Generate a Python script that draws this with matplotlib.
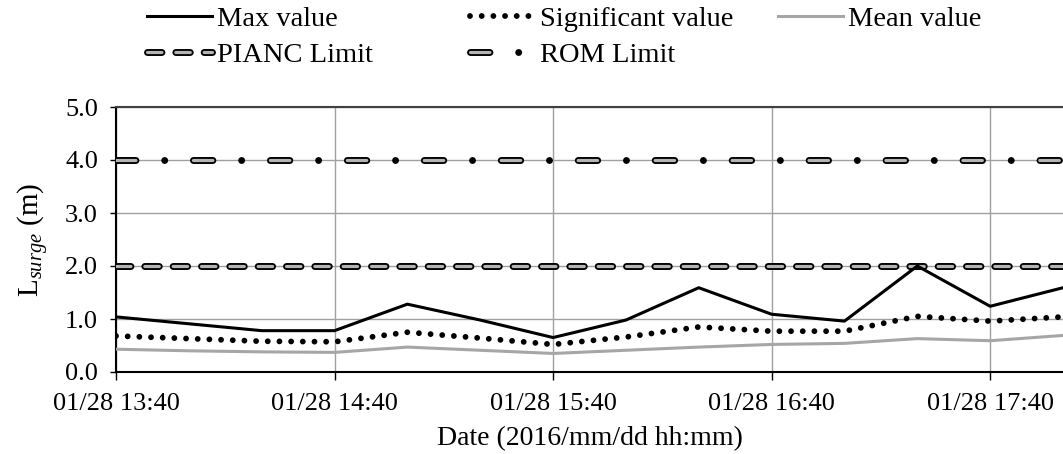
import matplotlib
matplotlib.use('Agg')
import matplotlib.pyplot as plt
import matplotlib.dates as mdates
from matplotlib.legend_handler import HandlerTuple
import pandas as pd

plt.rcParams['font.family'] = ['Liberation Serif', 'DejaVu Serif']
plt.rcParams['mathtext.fontset'] = 'custom'
plt.rcParams['mathtext.rm'] = 'Liberation Serif'
plt.rcParams['mathtext.it'] = 'Liberation Serif:italic'
plt.rcParams['lines.scale_dashes'] = False

# data (every 20 min)
times = ['2016-01-28 13:40', '2016-01-28 14:00', '2016-01-28 14:20', '2016-01-28 14:40',
         '2016-01-28 15:00', '2016-01-28 15:20', '2016-01-28 15:40', '2016-01-28 16:00',
         '2016-01-28 16:20', '2016-01-28 16:40', '2016-01-28 17:00', '2016-01-28 17:20',
         '2016-01-28 17:40', '2016-01-28 18:00']
max_value = [1.04, 0.91, 0.78, 0.78, 1.28, 0.98, 0.65, 0.98, 1.59, 1.09, 0.96, 2.00, 1.24, 1.59]
sig_value = [0.68, 0.63, 0.58, 0.57, 0.75, 0.64, 0.52, 0.66, 0.85, 0.77, 0.77, 1.05, 0.96, 1.04]
mean_value = [0.43, 0.40, 0.38, 0.37, 0.47, 0.41, 0.35, 0.41, 0.47, 0.52, 0.54, 0.63, 0.59, 0.69]
pianc_limit = 2.0
rom_limit = 4.0
tick_times = ['2016-01-28 13:40', '2016-01-28 14:40', '2016-01-28 15:40',
              '2016-01-28 16:40', '2016-01-28 17:40']

t = pd.to_datetime(times)
ticks = pd.to_datetime(tick_times)

fig = plt.figure(figsize=(10.63, 4.54), dpi=100)
ax = fig.add_axes([116/1063, 82/454, 947/1063, 265/454])

grey = '#a0a0a0'
fill = '#b4b4b4'
pianc_dash = (0, (10.4, 10.0))
rom_outer = (0, (14.0, 20.7, 0.01, 20.7))
rom_inner = (0, (14.0, 41.4))
dots = (0, (0.01, 8.4))

# limit lines: black outline + grey fill
ax.axhline(pianc_limit, color='black', lw=5.0, linestyle=pianc_dash, dash_capstyle='round', zorder=3)
ax.axhline(pianc_limit, color=fill, lw=2.3, linestyle=pianc_dash, dash_capstyle='round', zorder=3.1)
ax.axhline(rom_limit, color='black', lw=5.0, linestyle=rom_outer, dash_capstyle='round', zorder=3)
ax.axhline(rom_limit, color=fill, lw=2.3, linestyle=rom_inner, dash_capstyle='round', zorder=3.1)

ax.plot(t, mean_value, color='#a6a6a6', lw=2.2, zorder=4)
ax.plot(t, sig_value, color='black', lw=4.2, linestyle=dots, dash_capstyle='round', zorder=4)
ax.plot(t, max_value, color='black', lw=2.2, zorder=5)

ax.set_xlim(t[0], t[-1])
ax.set_ylim(0, 5)
ax.set_yticks([0, 1, 2, 3, 4, 5])
ax.yaxis.set_major_formatter(plt.FormatStrFormatter('%.1f'))
ax.set_xticks(ticks)
ax.xaxis.set_major_formatter(mdates.DateFormatter('%m/%d %H:%M'))
ax.grid(True, color=grey, lw=1.0, zorder=1)
ax.set_axisbelow(True)

for s in ['left', 'bottom', 'top']:
    ax.spines[s].set_linewidth(1.5)
    ax.spines[s].set_color('black')
ax.spines['top'].set_color('#404040')
ax.spines['right'].set_visible(False)
ax.tick_params(axis='y', length=4, width=1, pad=9, labelsize=19)
ax.tick_params(axis='x', length=6, width=1, pad=9, labelsize=19)

ax.set_xlabel('Date (2016/mm/dd hh:mm)', fontsize=20, labelpad=8)
ax.set_ylabel('L$_{surge}$ (m)', fontsize=21, labelpad=10)

# legend handles
h_max, = ax.plot([], [], color='black', lw=2.2)
h_sig, = ax.plot([], [], color='black', lw=4.2, linestyle=dots, dash_capstyle='round')
h_mean, = ax.plot([], [], color='#a6a6a6', lw=2.2)
p_o, = ax.plot([], [], color='black', lw=5.0, linestyle=pianc_dash, dash_capstyle='round')
p_i, = ax.plot([], [], color=fill, lw=2.3, linestyle=pianc_dash, dash_capstyle='round')
r_o, = ax.plot([], [], color='black', lw=5.0, linestyle=rom_outer, dash_capstyle='round')
r_i, = ax.plot([], [], color=fill, lw=2.3, linestyle=rom_inner, dash_capstyle='round')

leg_kw = dict(frameon=False, fontsize=20.5, handlelength=2.3, handletextpad=0.15,
              labelspacing=0.35, borderaxespad=0, borderpad=0, loc='upper left',
              handler_map={tuple: HandlerTuple(ndivide=1, pad=0)})
top = 1 - 6/454
fig.legend([h_max, (p_o, p_i)], ['Max value', 'PIANC Limit'],
           bbox_to_anchor=(147/1063, top), **leg_kw)
fig.legend([h_sig, (r_o, r_i)], ['Significant value', 'ROM Limit'],
           bbox_to_anchor=(470/1063, top), **leg_kw)
fig.legend([h_mean], ['Mean value'],
           bbox_to_anchor=(778/1063, top), **leg_kw)

fig.savefig('out.png', dpi=100)
